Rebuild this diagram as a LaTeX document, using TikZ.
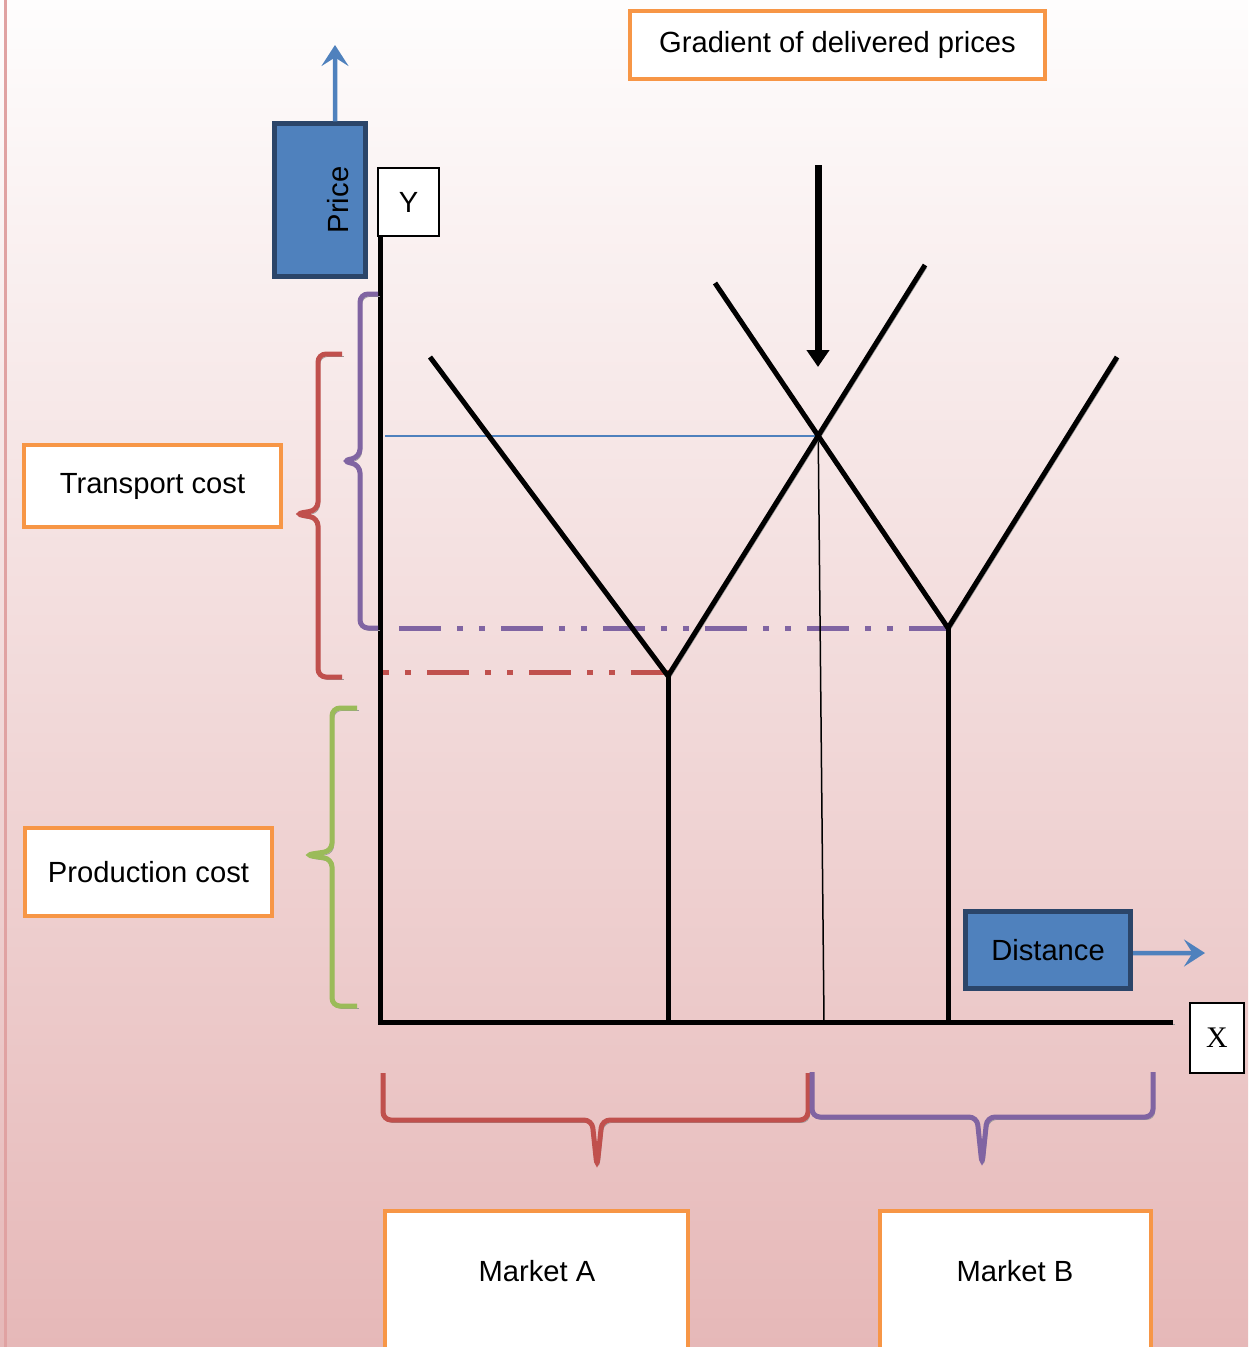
\documentclass[tikz,border=0pt]{standalone}
\usepackage{fontspec}
\setmainfont{Liberation Sans}
\newfontfamily\xfont{Liberation Serif}
\usetikzlibrary{arrows.meta}
\definecolor{boxorange}{HTML}{F79646}
\definecolor{boxblue}{HTML}{4F81BD}
\definecolor{boxnavy}{HTML}{2B4569}
\definecolor{bracered}{HTML}{C0504D}
\definecolor{bracepurple}{HTML}{8064A2}
\definecolor{bracegreen}{HTML}{9BBB59}
\definecolor{pagetop}{HTML}{FEFDFD}
\definecolor{pagebottom}{HTML}{E6B8B8}
\definecolor{pageedge}{HTML}{E0A2A2}

\begin{document}
\begin{tikzpicture}[
      x=0.2mm, y=-0.2mm,
      boxtext/.style={font=\fontsize{16.6}{20}\selectfont},
      labelbox/.style={
         rectangle,
         boxtext,
         line width=0.8mm,
         draw=boxorange,
         fill=white
      },
      bluebox/.style={
         rectangle,
         boxtext,
         line width=1mm,
         draw=boxnavy,
         fill=boxblue
      },
      axisbox/.style={
         rectangle,
         boxtext,
         line width=0.3mm,
         draw=black,
         fill=white
      },
      shadowed/.style={preaction={draw=black!40,transform canvas={shift={(0.35mm,-0.5mm)}}}},
      curve/.style={shadowed, line width=1mm, line join=miter},
      brace/.style={shadowed, line width=1mm, rounded corners=1.6mm},
      ddot/.style={line width=1mm,
         dash pattern=on 8.4mm off 3.2mm on 1.2mm off 3.2mm on 1.2mm off 3.2mm},
      point/.style={coordinate},
      blue tip/.style={-{Stealth[length=4.2mm,width=5.4mm,inset=1.7mm]}, line width=0.9mm, draw=boxblue},
      black tip/.style={-{Triangle[length=3.4mm,width=4.4mm]}, line width=1.4mm}
    ]
    \useasboundingbox (0,0) rectangle (1248,1347);
    \shade[top color=pagetop, bottom color=pagebottom] (0,0) rectangle (1248,1347);
    \clip (0,0) rectangle (1248,1347);
    \draw[pageedge, line width=0.6mm] (5,0) -- (5,1347);

    % points of the two price cones
    \node (origin) [point] at (380,1022) {};
    \node (ytop) [point] at (380,237) {};
    \node (xend) [point] at (1173,1022) {};
    \node (marketA) [point] at (668,676) {};
    \node (marketB) [point] at (948,628) {};
    \node (aLeft) [point] at (430,357) {};
    \node (aRight) [point] at (925,265) {};
    \node (bLeft) [point] at (715,283) {};
    \node (bRight) [point] at (1117,357) {};
    \coordinate (cross) at (intersection of marketA--aRight and bLeft--marketB);

    % cost levels
    \draw[ddot, bracepurple, dash phase=16.8mm] (381,628) -- (marketB);
    \draw[ddot, bracered, dash phase=11.6mm] (383,672) -- (670,672);
    \draw[boxblue, line width=0.3mm] ([xshift=1mm]cross -| ytop) -- (cross);
    \draw[line width=0.3mm] (cross) -- (824,1022);

    % delivered price lines
    \draw[curve] (aLeft) -- (marketA) -- (aRight);
    \draw[curve] (bLeft) -- (marketB) -- (bRight);
    \draw[curve] (marketA) -- (marketA |- origin);
    \draw[curve] (marketB) -- (marketB |- origin);
    \draw[curve] (ytop) -- (origin) -- (xend);

    % braces
    \draw[brace, bracepurple] (378,294) -| (360,457) -- (342,461) -- (360,465) |- (378,628);
    \draw[brace, bracered] (342,354) -| (318,510) -- (295,514) -- (318,518) |- (342,677);
    \draw[brace, bracegreen] (357,708) -| (332,851) -- (305,855) -- (332,859) |- (357,1006);
    \draw[brace, bracered] (383,1073) |- (592,1120) -- (597,1167) -- (602,1120) -| (808,1073);
    \draw[brace, bracepurple] (812,1072) |- (977,1117) -- (982,1165) -- (987,1117) -| (1153,1072);

    % boxes
    \node (price) [bluebox, minimum width=18.2mm, minimum height=30.4mm] at (320,200) {};
    \node (pricetext) [boxtext, rotate=90] at (338,200) {Price};
    \node (ybox) [axisbox, minimum width=12.2mm, minimum height=13.6mm] at (408.5,202) {Y};
    \node (xbox) [axisbox, font=\xfont\fontsize{17}{20}\selectfont,
                  minimum width=10.8mm, minimum height=14mm] at (1217,1038) {X};
    \node (dist) [bluebox, minimum width=33mm, minimum height=15.4mm] at (1048,950) {Distance};
    \node (grad) [labelbox, minimum width=83mm, minimum height=13.6mm] at (837.5,45) {Gradient of delivered prices};
    \node (transport) [labelbox, minimum width=51.4mm, minimum height=16.4mm] at (152.5,486) {Transport cost};
    \node (production) [labelbox, minimum width=49.4mm, minimum height=17.6mm] at (148.5,872) {Production cost};
    \node (mktA) [labelbox, anchor=north, minimum width=60.6mm, minimum height=40mm] at (536.5,1209) {};
    \node (mktAtext) [boxtext] at (537,1271) {Market A};
    \node (mktB) [labelbox, anchor=north, minimum width=54.2mm, minimum height=40mm] at (1015.5,1209) {};
    \node (mktBtext) [boxtext] at (1015,1271) {Market B};

    % arrows
    \node (priceTip) [point] at (335,45) {};
    \draw[blue tip] ([xshift=3mm]price.north) -- (priceTip);
    \node (distTip) [point] at (1205,953) {};
    \draw[blue tip] ([yshift=-0.6mm]dist.east) -- (distTip);
    \node (gradStart) [point] at (818,165) {};
    \node (gradEnd) [point] at (818,367) {};
    \draw[black tip] (gradStart) -- (gradEnd);
\end{tikzpicture}
\end{document}
